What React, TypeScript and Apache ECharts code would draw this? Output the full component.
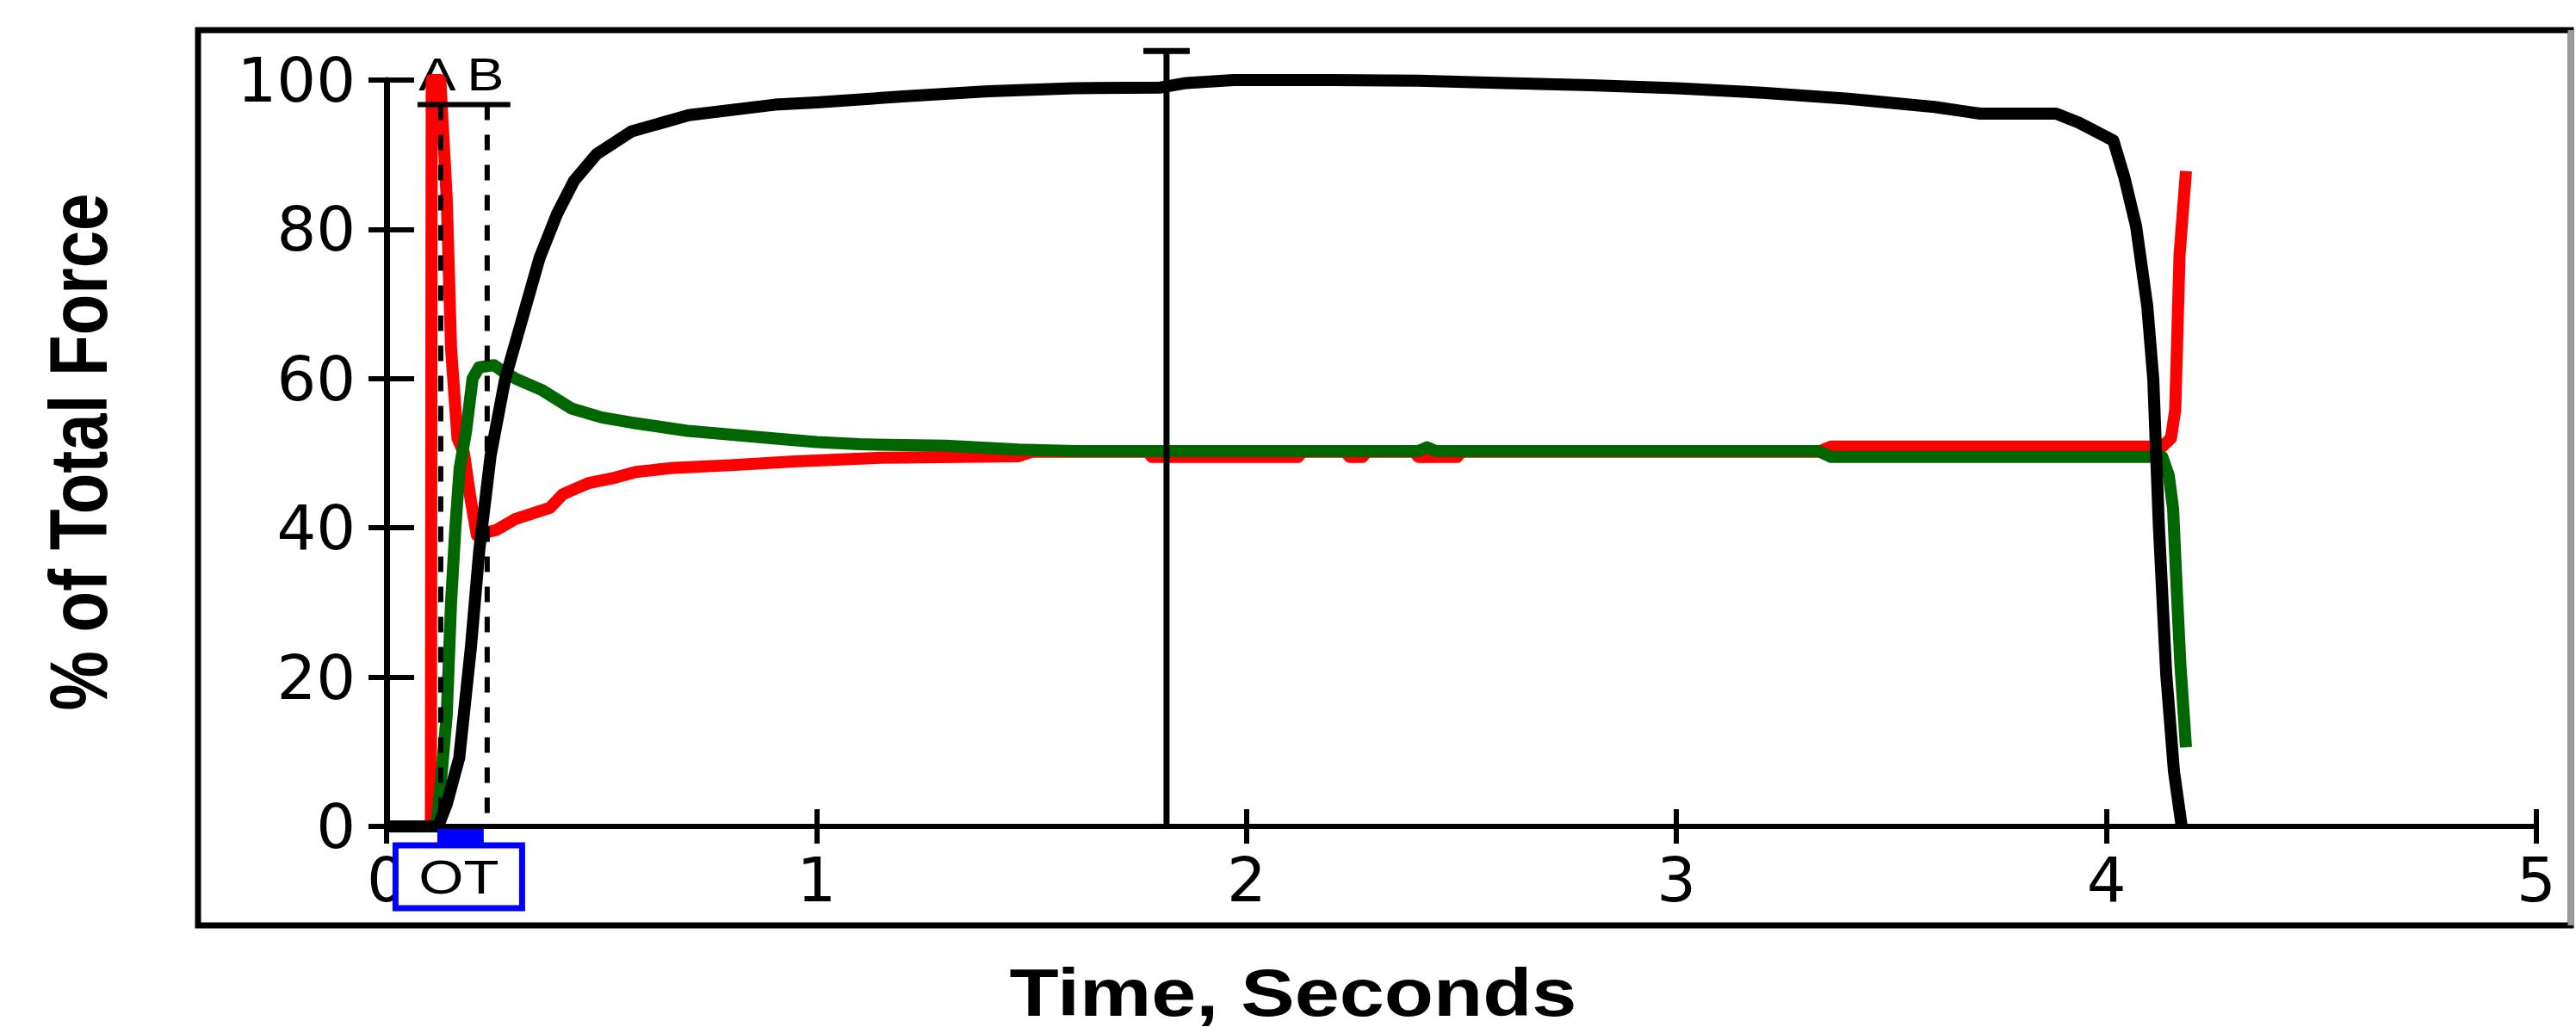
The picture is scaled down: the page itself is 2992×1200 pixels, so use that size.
import React, { useEffect, useRef } from "react";
import * as echarts from "echarts";

// ---- data (time in seconds, % of total force) ----
const timeRed = [0, 0.103, 0.105, 0.125, 0.14, 0.15, 0.165, 0.18, 0.195, 0.21, 0.24, 0.255, 0.3, 0.38, 0.41, 0.47, 0.53, 0.58, 0.66, 0.8, 0.95, 1.15, 1.47, 1.5, 1.77, 1.78, 2.12, 2.13, 2.23, 2.24, 2.27, 2.28, 2.39, 2.4, 2.49, 2.5, 3.33, 3.36, 4.13, 4.15, 4.16, 4.17, 4.185];
const pctRed = [0, 0, 100, 100, 84, 64, 52, 50, 44, 39, 39.5, 39.7, 41.2, 42.7, 44.5, 46, 46.7, 47.5, 48, 48.4, 48.9, 49.4, 49.6, 50.2, 50.2, 49.5, 49.5, 50.2, 50.2, 49.5, 49.5, 50.2, 50.2, 49.5, 49.5, 50.2, 50.2, 50.9, 50.9, 52, 55.8, 76.5, 87.8];

const timeGreen = [0, 0.115, 0.125, 0.14, 0.15, 0.16, 0.17, 0.185, 0.2, 0.215, 0.25, 0.27, 0.3, 0.36, 0.43, 0.5, 0.57, 0.7, 0.9, 1.0, 1.1, 1.3, 1.47, 1.6, 2.4, 2.42, 2.44, 3.33, 3.36, 4.13, 4.145, 4.155, 4.165, 4.172, 4.185];
const pctGreen = [0, 0, 5, 15, 30, 40, 48, 53, 60, 61.5, 61.8, 61, 60, 58.5, 56, 54.8, 54.1, 53, 52, 51.5, 51.2, 51.0, 50.5, 50.3, 50.3, 50.8, 50.3, 50.3, 49.5, 49.5, 47, 42.6, 30, 21.7, 10.6];

const timeTotal = [0, 0.12, 0.14, 0.169, 0.196, 0.216, 0.242, 0.276, 0.316, 0.356, 0.396, 0.436, 0.489, 0.569, 0.703, 0.903, 1.0, 1.2, 1.4, 1.6, 1.8, 1.86, 1.97, 2.2, 2.4, 2.6, 2.8, 3.0, 3.2, 3.4, 3.6, 3.706, 3.883, 3.936, 4.016, 4.042, 4.069, 4.095, 4.109, 4.122, 4.139, 4.157, 4.175];
const pctTotal = [0, 0, 3, 9.2, 23.9, 37.2, 49.7, 60, 68.1, 76.2, 82, 86.5, 90.1, 93.1, 95.3, 96.7, 97.0, 97.8, 98.5, 98.9, 99.0, 99.6, 100, 100, 99.9, 99.6, 99.3, 98.9, 98.3, 97.5, 96.4, 95.5, 95.5, 94.3, 91.9, 86.9, 80.4, 69.7, 59.9, 40.2, 20.5, 7.4, 0];

// cursors / markers (data units)
const cursorTime = 1.814;
const cursorTop = 103.9;
const cursorCapHalf = 0.054;
const markerA = 0.126;
const markerB = 0.234;
const markerLevel = 96.7;
const markerBarFrom = 0.072;
const markerBarTo = 0.288;
const markerLabels = ["A", "B"];
const otLabel = "OT";

const xMin = 0, xMax = 5, xStep = 1;
const yMin = 0, yMax = 100, yStep = 20;
const xTitle = "Time, Seconds";
const yTitle = "% of Total Force";

const zip = (a: number[], b: number[]) => a.map((v, i) => [v, b[i]]);

export default function App() {
  const ref = useRef<HTMLDivElement>(null);
  useEffect(() => {
    if (!ref.current) return;
    const chart = echarts.init(ref.current, null, { renderer: "svg" });
    const tickFont = { fontSize: 72, fontFamily: "DejaVu Sans", color: "#000" };
    const lineCommon = { type: "line", showSymbol: false, symbol: "none", xAxisIndex: 0, yAxisIndex: 0, silent: true };
    chart.setOption({
      animation: false,
      backgroundColor: "#ffffff",
      grid: { left: 449, right: 46, top: 93, bottom: 240, containLabel: false },
      xAxis: [
        {
          type: "value", min: xMin, max: xMax, interval: xStep,
          axisLine: { show: true, onZero: false, lineStyle: { color: "#000", width: 6 } },
          axisTick: { show: true, length: 20, lineStyle: { color: "#000", width: 6 } },
          axisLabel: { ...tickFont, margin: 26 },
          splitLine: { show: false },
        },
        {
          type: "value", position: "bottom", min: xMin, max: xMax, interval: xStep,
          axisLine: { show: false },
          axisTick: { show: true, inside: true, length: 20, lineStyle: { color: "#000", width: 6 } },
          axisLabel: { show: false },
          splitLine: { show: false },
        },
      ],
      yAxis: [
        {
          type: "value", min: yMin, max: yMax, interval: yStep,
          axisLine: { show: true, onZero: false, lineStyle: { color: "#000", width: 7 } },
          axisTick: { show: true, length: 21, lineStyle: { color: "#000", width: 6 } },
          axisLabel: { ...tickFont, margin: 36 },
          splitLine: { show: false },
        },
        {
          type: "value", position: "left", min: yMin, max: yMax, interval: yStep,
          axisLine: { show: false },
          axisTick: { show: true, inside: true, length: 32, lineStyle: { color: "#000", width: 6 } },
          axisLabel: { show: false },
          splitLine: { show: false },
        },
      ],
      series: [
        { ...lineCommon, name: "red", z: 2, data: zip(timeRed, pctRed), lineStyle: { color: "#ff0000", width: 14, join: "round" } },
        { ...lineCommon, name: "green", z: 3, data: zip(timeGreen, pctGreen), lineStyle: { color: "#006600", width: 14, join: "round" } },
        { ...lineCommon, name: "total", z: 4, data: zip(timeTotal, pctTotal), lineStyle: { color: "#000000", width: 14, join: "round" } },
        {
          ...lineCommon, name: "cursor", z: 5, clip: false,
          data: [[cursorTime - cursorCapHalf, cursorTop], [cursorTime + cursorCapHalf, cursorTop], [cursorTime, cursorTop], [cursorTime, 0]],
          lineStyle: { color: "#000", width: 7 },
        },
        {
          ...lineCommon, name: "A", z: 6, clip: false,
          data: [[markerA, markerLevel], [markerA, 0]],
          lineStyle: { color: "#000", width: 6, type: [18, 17] },
        },
        {
          ...lineCommon, name: "B", z: 6, clip: false,
          data: [[markerB, markerLevel], [markerB, 0]],
          lineStyle: { color: "#000", width: 6, type: [18, 17] },
        },
        {
          ...lineCommon, name: "AB", z: 6, clip: false,
          data: [[markerBarFrom, markerLevel], [markerBarTo, markerLevel]],
          lineStyle: { color: "#000", width: 6 },
        },
      ],
    });

    const px = (x: number, y: number) => chart.convertToPixel({ gridIndex: 0 }, [x, y]) as number[];
    const pA = px(markerA, markerLevel);
    const pB = px(markerB, markerLevel);
    const p0 = px(0, 0);
    const axisY = p0[1];
    const otCenter = (pA[0] + pB[0]) / 2 - 6;
    const boxW = 147;
    const boxTop = axisY + 22;
    const boxH = 73;

    chart.setOption({
      graphic: [
        { type: "rect", z: 1, shape: { x: 230, y: 35, width: 2756, height: 1040 }, style: { fill: null, stroke: "#000", lineWidth: 7 } },
        { type: "line", z: 1, shape: { x1: 2986, y1: 35, x2: 2986, y2: 1075 }, style: { stroke: "#9a9a9a", lineWidth: 7 } },
        {
          type: "text", z: 1, x: pA[0] - 4, y: pA[1] - 35, scaleX: 1.2,
          style: { text: markerLabels[0], fontSize: 54, fontFamily: "Liberation Sans", fill: "#000", align: "center", verticalAlign: "middle" },
        },
        {
          type: "text", z: 1, x: pB[0] - 2, y: pB[1] - 35, scaleX: 1.2,
          style: { text: markerLabels[1], fontSize: 54, fontFamily: "Liberation Sans", fill: "#000", align: "center", verticalAlign: "middle" },
        },
        { type: "rect", z: 100, shape: { x: pA[0] - 4, y: axisY + 3, width: pB[0] - pA[0], height: boxTop - axisY - 3 }, style: { fill: "#0000ff" } },
        {
          type: "rect", z: 100, shape: { x: otCenter - boxW / 2, y: boxTop, width: boxW, height: boxH },
          style: { fill: "#ffffff", stroke: "#0000ff", lineWidth: 7 },
        },
        {
          type: "text", z: 101, x: otCenter, y: boxTop + boxH / 2, scaleX: 1.2,
          style: { text: otLabel, fontSize: 56, fontFamily: "Liberation Sans", fill: "#000", align: "center", verticalAlign: "middle" },
        },
        {
          type: "text", z: 1, x: 1502, y: 1153, scaleX: 1.2,
          style: { text: xTitle, fontSize: 78, fontWeight: "bold", fontFamily: "Liberation Sans", fill: "#000", align: "center", verticalAlign: "middle" },
        },
        {
          type: "text", z: 1, x: 91, y: 525, rotation: Math.PI / 2, scaleY: 1.2,
          style: { text: yTitle, fontSize: 78, fontWeight: "bold", fontFamily: "Liberation Sans", fill: "#000", align: "center", verticalAlign: "middle" },
        },
      ],
    });

    return () => chart.dispose();
  }, []);
  return (
    <div
      ref={ref}
      style={{ position: "fixed", left: 0, top: 0, width: 2992, height: 1200, background: "#fff" }}
    />
  );
}
